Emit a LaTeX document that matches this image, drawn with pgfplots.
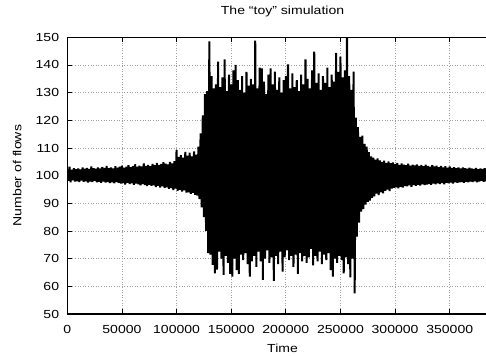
\documentclass[border=0pt]{standalone}
\usepackage{fontspec}
\setmainfont[FakeStretch=1.2]{Liberation Sans}
\usepackage{pgfplots}
\usepackage{pgfplotstable}
\pgfplotsset{compat=1.18}
\pgfplotstableread{
t v
0 102.4
1000 98.1
2000 103.2
3000 97.6
4000 102.1
5000 98.3
6000 102.7
7000 97.9
8000 102.3
9000 98.0
10000 102.6
11000 97.7
12000 102.2
13000 98.2
14000 103.0
15000 97.8
16000 102.5
17000 98.0
18000 102.8
19000 97.5
20000 102.4
21000 97.9
22000 103.3
23000 97.7
24000 102.7
25000 98.1
26000 102.5
27000 97.6
28000 103.0
29000 97.8
30000 102.6
31000 97.4
32000 103.1
33000 97.9
34000 102.8
35000 97.5
36000 103.5
37000 97.7
38000 102.7
39000 97.3
40000 103.0
41000 97.6
42000 102.6
43000 97.2
44000 103.4
45000 97.7
46000 102.9
47000 97.4
48000 103.2
49000 97.1
50000 103.6
51000 97.3
52000 102.9
53000 96.8
54000 103.2
55000 97.4
56000 103.8
57000 97.0
58000 103.1
59000 97.2
60000 103.4
61000 96.7
62000 104.1
63000 97.1
64000 103.2
65000 96.9
66000 103.6
67000 96.5
68000 103.3
69000 97.0
70000 104.4
71000 96.6
72000 103.5
73000 96.2
74000 103.9
75000 96.7
76000 103.4
77000 96.3
78000 104.2
79000 96.5
80000 103.8
81000 95.9
82000 104.6
83000 96.3
84000 103.9
85000 95.7
86000 104.2
87000 96.1
88000 104.9
89000 95.6
90000 104.3
91000 95.8
92000 104.1
93000 95.2
94000 105.0
95000 95.5
96000 104.4
97000 94.8
98000 105.2
99000 95.3
100000 109.3
101000 94.5
102000 106.8
103000 94.9
104000 107.4
105000 94.2
106000 106.5
107000 94.7
108000 108.6
109000 93.9
110000 107.2
111000 94.0
112000 108.3
113000 93.4
114000 107.0
115000 93.8
116000 108.8
117000 93.1
118000 107.6
119000 92.8
120000 110.5
121000 91.5
122000 115.3
123000 88.5
124000 121.8
125000 85.0
126000 129.5
127000 80.0
128000 130.5
129000 72.0
130000 148.5
131000 71.5
132000 136.0
133000 67.8
134000 131.5
135000 64.7
136000 133.0
137000 66.0
138000 141.2
139000 72.5
140000 132.0
141000 70.0
142000 135.5
143000 64.1
144000 142.0
145000 71.0
146000 130.5
147000 68.5
148000 136.5
149000 64.5
150000 133.0
151000 63.5
152000 138.0
153000 70.0
154000 140.0
155000 65.9
156000 134.5
157000 64.5
158000 131.0
159000 71.5
160000 136.0
161000 69.5
162000 130.0
163000 72.0
164000 137.5
165000 68.0
166000 132.5
167000 63.5
168000 135.0
169000 69.0
170000 133.0
171000 71.0
172000 148.8
173000 67.0
174000 131.5
175000 72.5
176000 139.0
177000 69.0
178000 138.8
179000 62.3
180000 134.0
181000 70.0
182000 129.5
183000 73.0
184000 136.5
185000 68.5
186000 138.8
187000 70.5
188000 133.0
189000 62.0
190000 137.6
191000 71.0
192000 131.0
193000 68.0
194000 135.5
195000 72.5
196000 130.0
197000 65.3
198000 134.5
199000 70.5
200000 136.0
201000 73.0
202000 140.2
203000 69.5
204000 131.5
205000 71.0
206000 137.0
207000 67.0
208000 132.0
209000 71.5
210000 134.5
211000 64.5
212000 130.5
213000 72.0
214000 136.5
215000 69.0
216000 133.0
217000 71.0
218000 142.0
219000 68.5
220000 135.0
221000 70.5
222000 131.5
223000 73.5
224000 138.0
225000 67.6
226000 144.8
227000 71.0
228000 133.5
229000 69.0
230000 137.0
231000 72.5
232000 131.0
233000 68.0
234000 136.0
235000 71.5
236000 133.5
237000 69.5
238000 139.0
239000 72.0
240000 132.0
241000 65.9
242000 136.5
243000 63.5
244000 134.0
245000 70.0
246000 144.4
247000 68.5
248000 137.5
249000 71.0
250000 143.0
251000 69.5
252000 135.5
253000 64.7
254000 138.0
255000 70.5
256000 152.0
257000 68.0
258000 136.0
259000 63.2
260000 131.0
261000 70.0
262000 137.6
263000 57.5
264000 121.0
265000 78.0
266000 117.5
267000 83.0
268000 114.0
269000 87.0
270000 114.5
271000 88.0
272000 111.5
273000 89.5
274000 110.5
275000 90.5
276000 108.5
277000 91.0
278000 107.0
279000 92.0
280000 106.5
281000 92.5
282000 105.8
283000 93.5
284000 106.2
285000 93.0
286000 105.5
287000 94.0
288000 105.0
289000 93.6
290000 105.4
291000 94.5
292000 104.6
293000 95.0
294000 105.1
295000 94.4
296000 104.5
297000 95.3
298000 104.8
299000 95.6
300000 104.2
301000 95.8
302000 104.6
303000 95.4
304000 103.9
305000 96.0
306000 104.4
307000 95.7
308000 104.0
309000 96.2
310000 103.8
311000 96.1
312000 104.3
313000 96.5
314000 103.6
315000 96.0
316000 104.0
317000 96.6
318000 103.7
319000 96.3
320000 104.1
321000 96.7
322000 103.5
323000 96.4
324000 103.9
325000 96.9
326000 103.4
327000 96.6
328000 104.0
329000 96.8
330000 103.5
331000 97.0
332000 103.2
333000 96.7
334000 103.8
335000 97.1
336000 103.3
337000 96.9
338000 103.6
339000 97.2
340000 103.1
341000 97.0
342000 103.5
343000 97.3
344000 103.0
345000 96.9
346000 103.4
347000 97.4
348000 102.9
349000 97.2
350000 103.3
351000 97.5
352000 102.8
353000 97.1
354000 103.1
355000 97.6
356000 102.7
357000 97.4
358000 103.0
359000 97.6
360000 102.6
361000 97.7
362000 103.0
363000 97.4
364000 102.7
365000 97.8
366000 102.5
367000 97.6
368000 102.9
369000 97.9
370000 102.6
371000 97.7
372000 102.4
373000 98.0
374000 102.8
375000 97.6
376000 102.3
377000 97.9
378000 102.6
379000 98.1
380000 102.4
381000 97.8
382000 102.7
383000 98.0
384000 102.5
385000 97.9
386000 102.6
}\flows
\begin{document}
\begin{tikzpicture}
\begin{axis}[
  name=ax,
  scale only axis,
  width=430.5bp, height=276.7bp,
  xmin=0, xmax=394000,
  ymin=50, ymax=150,
  xtick={0,50000,100000,150000,200000,250000,300000,350000},
  ytick={50,60,70,80,90,100,110,120,130,140,150},
  scaled x ticks=false,
  xticklabel style={/pgf/number format/fixed, /pgf/number format/1000 sep={}},
  /pgf/number format/assume math mode=true,
  tick label style={font=\fontsize{11.7bp}{14bp}\selectfont},
  xticklabel style={anchor=base, yshift=-19.3bp, inner sep=0pt},
  yticklabel style={anchor=east, xshift=-8bp, inner sep=0pt},
  tick align=inside,
  major tick length=5bp,
  tick style={black, line width=0.8bp},
  axis line style={black, line width=1.1bp},
  grid=major,
  major grid style={gray!75, line width=0.8bp, dash pattern=on 1bp off 1.6bp},
  title={The ``toy'' simulation},
  title style={font=\fontsize{11.7bp}{14bp}\selectfont, at={(rel axis cs:0.5,1)}, anchor=base, yshift=16.8bp, inner sep=0pt},
  xlabel={Time},
  xlabel style={font=\fontsize{11.7bp}{14bp}\selectfont, at={(rel axis cs:0.5,0)}, anchor=base, yshift=-38.5bp, inner sep=0pt},
  ylabel={Number of flows},
  ylabel style={font=\fontsize{11.7bp}{14bp}\selectfont, at={(rel axis cs:-0.1164,0.5)}, anchor=center, inner sep=0pt},
]
\addplot[black, line width=2bp, line join=bevel, mark=none] table[x=t, y=v] {\flows};
\end{axis}
\pgfresetboundingbox
\path[use as bounding box] ([xshift=-67.3bp, yshift=-42bp]ax.south west) rectangle ([xshift=418.7bp, yshift=37.3bp]ax.north west);
\end{tikzpicture}
\end{document}
